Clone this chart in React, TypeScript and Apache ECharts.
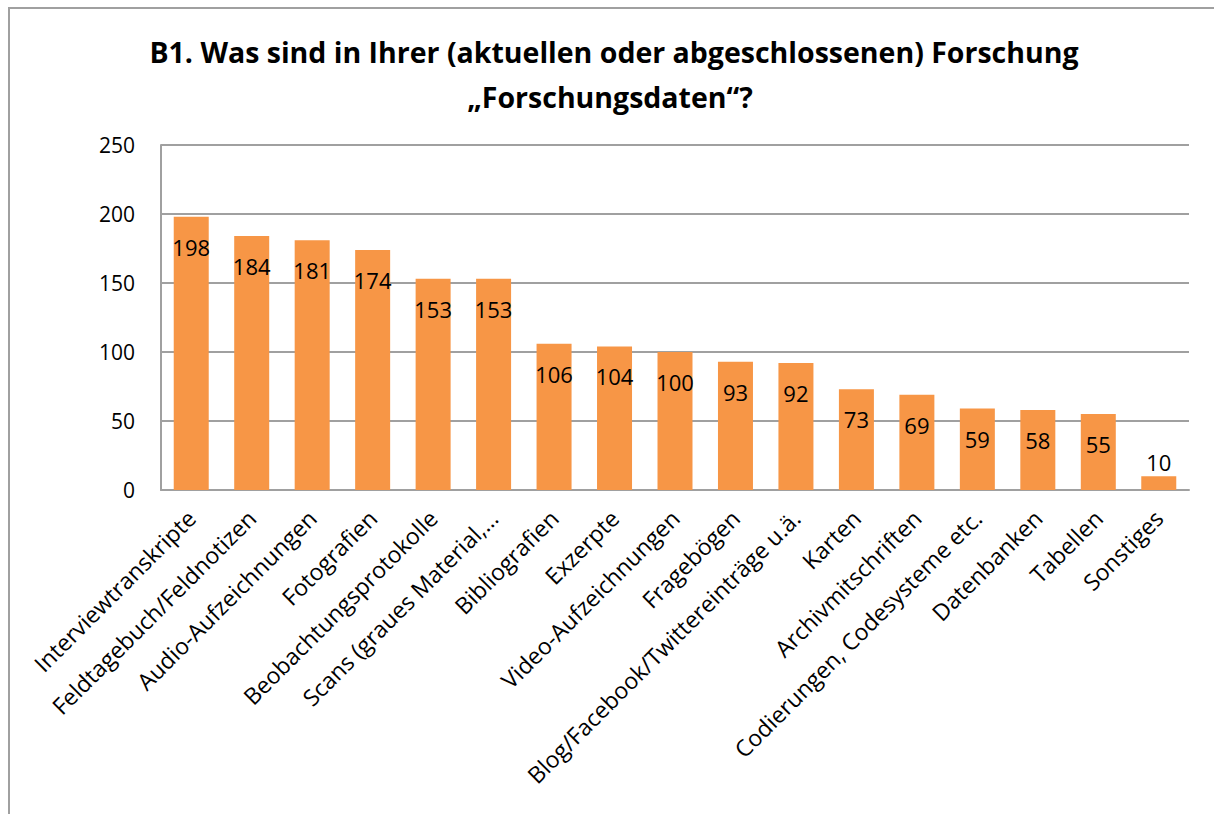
import React, { useEffect, useRef } from "react";
import * as echarts from "echarts";

const categories = [
  "Interviewtranskripte",
  "Feldtagebuch/Feldnotizen",
  "Audio-Aufzeichnungen",
  "Fotografien",
  "Beobachtungsprotokolle",
  "Scans (graues Material,…",
  "Bibliografien",
  "Exzerpte",
  "Video-Aufzeichnungen",
  "Fragebögen",
  "Blog/Facebook/Twittereinträge u.ä.",
  "Karten",
  "Archivmitschriften",
  "Codierungen, Codesysteme etc.",
  "Datenbanken",
  "Tabellen",
  "Sonstiges",
];
const values = [198, 184, 181, 174, 153, 153, 106, 104, 100, 93, 92, 73, 69, 59, 58, 55, 10];
const titleLines = [
  "B1. Was sind in Ihrer (aktuellen oder abgeschlossenen) Forschung",
  "„Forschungsdaten“?",
];
const yMin = 0;
const yMax = 250;
const yStep = 50;

const FONT = "'Open Sans', 'Noto Sans', sans-serif";
const GREY = "#A0A0A0";
const BAR = "#F79646";

export default function App() {
  const ref = useRef<HTMLDivElement>(null);
  useEffect(() => {
    if (!ref.current) return;
    const chart = echarts.init(ref.current, undefined, { renderer: "svg" });
    chart.setOption({
      animation: false,
      backgroundColor: "#fff",
      graphic: [
        {
          type: "rect",
          shape: { x: 9, y: 8, width: 1400, height: 1000 },
          style: { fill: "none", stroke: GREY, lineWidth: 2 },
          silent: true,
          z: -1,
        },
        {
          type: "text",
          x: 614,
          y: 52,
          style: {
            text: titleLines[0],
            align: "center",
            verticalAlign: "middle",
            fontFamily: FONT,
            fontWeight: "bold",
            fontSize: 28.5,
            fill: "#000",
          },
        },
        {
          type: "text",
          x: 610,
          y: 97,
          style: {
            text: titleLines[1],
            align: "center",
            verticalAlign: "middle",
            fontFamily: FONT,
            fontWeight: "bold",
            fontSize: 28.5,
            fill: "#000",
          },
        },
      ],
      grid: { left: 161, top: 145, right: 25, bottom: 324, containLabel: false },
      xAxis: {
        type: "category",
        data: categories,
        axisLine: { show: true, lineStyle: { color: GREY, width: 2 } },
        axisTick: { show: false },
        axisLabel: {
          interval: 0,
          rotate: 45,
          margin: 24,
          fontFamily: FONT,
          fontSize: 23,
          color: "#000",
        },
      },
      yAxis: {
        type: "value",
        min: yMin,
        max: yMax,
        interval: yStep,
        axisLine: { show: true, lineStyle: { color: GREY, width: 2 } },
        axisTick: { show: false },
        splitLine: { show: true, lineStyle: { color: GREY, width: 2 } },
        axisLabel: {
          margin: 26,
          fontFamily: FONT,
          fontSize: 21,
          color: "#000",
        },
      },
      series: [
        {
          type: "bar",
          barWidth: 35,
          itemStyle: { color: BAR },
          data: values.map((v, i) =>
            i === values.length - 1
              ? { value: v, label: { position: "top", distance: 3 } }
              : v
          ),
          label: {
            show: true,
            position: "insideTop",
            distance: 19,
            fontFamily: FONT,
            fontSize: 22,
            color: "#000",
          },
        },
      ],
    });
    return () => chart.dispose();
  }, []);
  return (
    <div
      ref={ref}
      style={{ position: "absolute", left: 0, top: 0, width: 1214, height: 814 }}
    />
  );
}
